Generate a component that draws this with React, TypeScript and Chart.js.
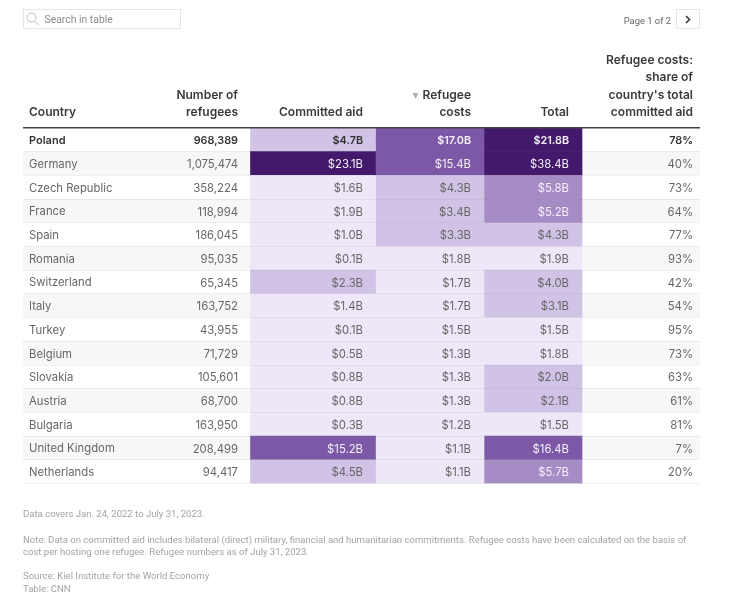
import React, { useEffect, useRef } from "react";
import { Chart, registerables } from "chart.js";

Chart.register(...registerables);

const countries = ["Poland", "Germany", "Czech Republic", "France", "Spain", "Romania", "Switzerland", "Italy", "Turkey", "Belgium", "Slovakia", "Austria", "Bulgaria", "United Kingdom", "Netherlands"];
const refugees = [968389, 1075474, 358224, 118994, 186045, 95035, 65345, 163752, 43955, 71729, 105601, 68700, 163950, 208499, 94417];
const committedAid = [4.7, 23.1, 1.6, 1.9, 1.0, 0.1, 2.3, 1.4, 0.1, 0.5, 0.8, 0.8, 0.3, 15.2, 4.5];
const refugeeCosts = [17.0, 15.4, 4.3, 3.4, 3.3, 1.8, 1.7, 1.7, 1.5, 1.3, 1.3, 1.3, 1.2, 1.1, 1.1];
const totals = [21.8, 38.4, 5.8, 5.2, 4.3, 1.9, 4.0, 3.1, 1.5, 1.8, 2.0, 2.1, 1.5, 16.4, 5.7];
const shares = [78, 40, 73, 64, 77, 93, 42, 54, 95, 73, 63, 61, 81, 7, 20];

const binLimits = [2, 5, 10, 20];
const binColors = ["#EEE7F8", "#D0C3E6", "#A68CC5", "#7C58A6", "#42196B"];

const LEFT = 23, RIGHT = 700, TOP = 128, BOTTOM = 483.5;
const edges = [250.5, 375.5, 484, 582];
const FONT = "Inter, 'Liberation Sans', sans-serif";
const NOTE_FONT = "Roboto, 'Liberation Sans', sans-serif";

const binOf = (v: number) => {
  const i = binLimits.findIndex((l) => v < l);
  return i < 0 ? binColors.length - 1 : i;
};
const money = (v: number) => `$${v.toFixed(1)}B`;

const tablePlugin = {
  id: "tableText",
  afterDatasetsDraw(chart: any) {
    const { ctx, scales } = chart;
    const y = scales.y;
    const put = (t: string, x: number, yy: number, font: string, color: string, align: CanvasTextAlign = "left") => {
      ctx.font = font;
      ctx.fillStyle = color;
      ctx.textAlign = align;
      ctx.textBaseline = "middle";
      ctx.fillText(t, x, yy);
    };
    ctx.save();
    // header rule
    ctx.fillStyle = "#444444";
    ctx.fillRect(LEFT, 127, RIGHT - LEFT, 1.5);

    const hf = `600 12px ${FONT}`;
    const hc = "#3A3A3A";
    put("Country", 29, 112, hf, hc);
    put("Number of", 238, 95, hf, hc, "right");
    put("refugees", 238, 112, hf, hc, "right");
    put("Committed aid", 363, 112, hf, hc, "right");
    put("Refugee", 471, 95, hf, hc, "right");
    put("costs", 471, 112, hf, hc, "right");
    put("Total", 569, 112, hf, hc, "right");
    put("Refugee costs:", 693, 60, hf, hc, "right");
    put("share of", 693, 77, hf, hc, "right");
    put("country's total", 693, 95, hf, hc, "right");
    put("committed aid", 693, 112, hf, hc, "right");
    // sort arrow
    ctx.fillStyle = "#B0B0B0";
    ctx.beginPath();
    ctx.moveTo(412.5, 93);
    ctx.lineTo(418.5, 93);
    ctx.lineTo(415.5, 99);
    ctx.closePath();
    ctx.fill();

    countries.forEach((_, i) => {
      const py = y.getPixelForValue(i) + 1.2;
      const bold = i === 0;
      const bf = bold ? `600 10.8px ${FONT}` : `400 11.3px ${FONT}`;
      const c0 = bold ? "#333333" : "#666666";
      const heat = (v: number) => (binOf(v) >= 2 ? "#F5F0FA" : bold ? "#333333" : "#666666");
      put(refugees[i].toLocaleString("en-US"), 238, py, bf, c0, "right");
      put(money(committedAid[i]), 363, py, bf, heat(committedAid[i]), "right");
      put(money(refugeeCosts[i]), 471, py, bf, heat(refugeeCosts[i]), "right");
      put(money(totals[i]), 569, py, bf, heat(totals[i]), "right");
      put(`${shares[i]}%`, 693, py, bf, c0, "right");
    });

    // search box
    ctx.strokeStyle = "#E6E6E6";
    ctx.lineWidth = 1;
    ctx.strokeRect(23.5, 9.5, 157, 19);
    ctx.strokeStyle = "#BDBDBD";
    ctx.beginPath();
    ctx.arc(31.5, 17.5, 4.5, 0, Math.PI * 2);
    ctx.moveTo(34.8, 21);
    ctx.lineTo(38.5, 25);
    ctx.stroke();
    put("Search in table", 44.5, 20.5, `400 10.4px ${NOTE_FONT}`, "#8C8C8C");

    // pager
    put("Page 1 of 2", 671, 21.5, `400 9.4px ${NOTE_FONT}`, "#666666", "right");
    ctx.strokeStyle = "#E6E6E6";
    ctx.strokeRect(676.5, 9.5, 23, 19);
    ctx.strokeStyle = "#333333";
    ctx.lineWidth = 1.5;
    ctx.beginPath();
    ctx.moveTo(686, 16);
    ctx.lineTo(689.5, 19.5);
    ctx.lineTo(686, 23);
    ctx.stroke();

    // notes
    const nf = `400 9.55px ${NOTE_FONT}`;
    const nc = "#A3A3A3";
    put("Data covers Jan. 24, 2022 to July 31, 2023.", 23, 514.5, nf, nc);
    put("Note: Data on committed aid includes bilateral (direct) military, financial and humanitarian commitments. Refugee costs have been calculated on the basis of", 23, 540.5, nf, nc);
    put("cost per hosting one refugee. Refugee numbers as of July 31, 2023.", 23, 552.5, nf, nc);
    put("Source: Kiel Institute for the World Economy", 23, 577, nf, nc);
    put("Table: CNN", 23, 590, nf, nc);
    ctx.restore();
  },
};

export default function App() {
  const ref = useRef<HTMLCanvasElement | null>(null);
  useEffect(() => {
    if (!ref.current) return;
    const cell = (a: number, b: number) => countries.map(() => [a, b]);
    const chart = new Chart(ref.current, {
      type: "bar",
      data: {
        labels: countries,
        datasets: [
          { label: "Committed aid", data: cell(edges[0], edges[1]) as any, backgroundColor: committedAid.map((v) => binColors[binOf(v)]) },
          { label: "Refugee costs", data: cell(edges[1], edges[2]) as any, backgroundColor: refugeeCosts.map((v) => binColors[binOf(v)]) },
          { label: "Total", data: cell(edges[2], edges[3]) as any, backgroundColor: totals.map((v) => binColors[binOf(v)]) },
          { label: "Row", data: cell(LEFT, RIGHT) as any, backgroundColor: countries.map((_, i) => (i % 2 ? "#F7F7F7" : "#FFFFFF")) },
        ],
      },
      options: {
        indexAxis: "y",
        responsive: false,
        animation: false,
        events: [],
        layout: { padding: { left: LEFT, right: 744 - RIGHT, top: TOP, bottom: 600 - BOTTOM } },
        datasets: { bar: { barPercentage: 1, categoryPercentage: 1 } },
        plugins: { legend: { display: false }, tooltip: { enabled: false }, title: { display: false } },
        scales: {
          x: { type: "linear", min: LEFT, max: RIGHT, display: false, stacked: false },
          y: {
            type: "category",
            stacked: true,
            offset: true,
            border: { display: false },
            afterFit: (s: any) => { s.width = 0; },
            grid: {
              z: 1,
              offset: true,
              drawTicks: false,
              color: (c: any) => (c.index === 0 || c.index === countries.length ? "rgba(0,0,0,0)" : "rgba(120,120,120,0.1)"),
            },
            ticks: {
              z: 2,
              mirror: true,
              padding: 6,
              labelOffset: 1,
              autoSkip: false,
              color: (c: any) => (c.index === 0 ? "#333333" : "#666666"),
              font: (c: any) => ({ family: FONT, size: c.index === 0 ? 11 : 11.3, weight: c.index === 0 ? 600 : 400 }),
            },
          },
        },
      } as any,
      plugins: [tablePlugin],
    });
    return () => chart.destroy();
  }, []);
  return (
    <div style={{ position: "absolute", left: 0, top: 0, width: 744, height: 600, background: "#fff" }}>
      <canvas ref={ref} width={744} height={600} style={{ display: "block" }} />
    </div>
  );
}
